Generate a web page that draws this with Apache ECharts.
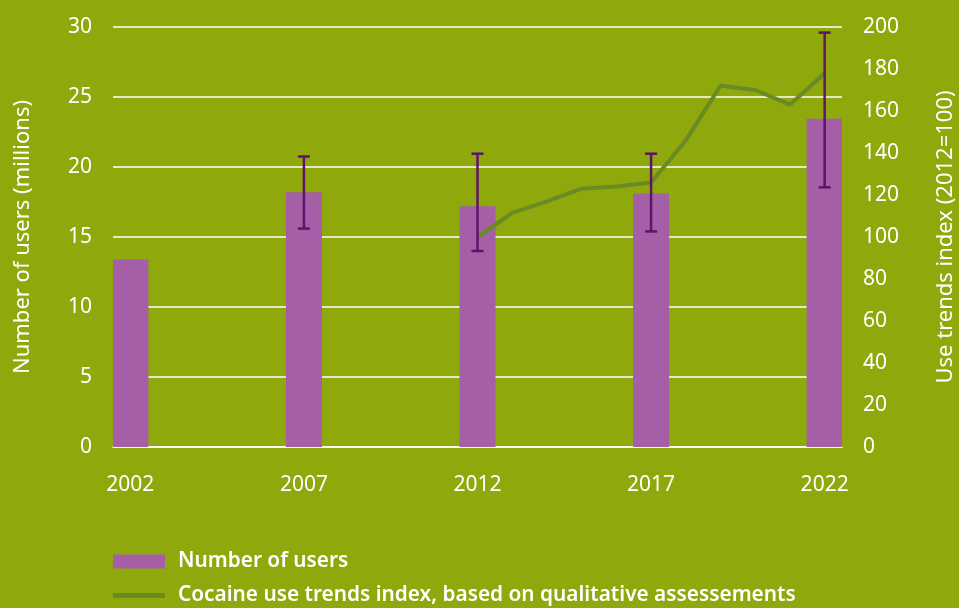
<!DOCTYPE html>
<html>
<head>
<meta charset="utf-8">
<script src="https://cdn.jsdelivr.net/npm/echarts@6/dist/echarts.min.js"></script>
<style>
  html, body { margin: 0; padding: 0; background: #8fa80c; }
  #chart { width: 959px; height: 608px; }
</style>
</head>
<body>
<div id="chart"></div>
<script>
const years = ['2002','2003','2004','2005','2006','2007','2008','2009','2010','2011','2012',
  '2013','2014','2015','2016','2017','2018','2019','2020','2021','2022']

// survey years with user estimates (millions)
const userYears = ['2002', '2007', '2012', '2017', '2022']
const users = [13.4, 18.2, 17.2, 18.1, 23.45]
const usersLow = [null, 15.6, 14.0, 15.4, 18.55]
const usersHigh = [null, 20.75, 20.95, 20.95, 29.6]

// trends index, 2012 = 100
const indexYears = ['2012','2013','2014','2015','2016','2017','2018','2019','2020','2021','2022']
const indexValues = [100, 111.5, 117, 123, 124, 126, 146, 172, 170, 163, 178]

const usersName = 'Number of users'
const indexName = 'Cocaine use trends index, based on qualitative assessements'

const barData = years.map(y => {
  const i = userYears.indexOf(y)
  return i >= 0 ? users[i] : '-'
})
const lineData = years.map(y => {
  const i = indexYears.indexOf(y)
  return i >= 0 ? indexValues[i] : '-'
})
const errData = userYears
  .map((y, i) => [years.indexOf(y), usersLow[i], usersHigh[i]])
  .filter(d => d[1] != null)

const font = '"Noto Sans", "Open Sans", sans-serif'
const chart = echarts.init(document.getElementById('chart'))

chart.setOption({
  animation: false,
  backgroundColor: '#8fa80c',
  textStyle: { fontFamily: font },
  grid: { left: 113, right: 117, top: 27, bottom: 161, outerBoundsMode: 'none' },
  legend: [
    {
      data: [usersName],
      left: 113,
      top: 551,
      padding: 0,
      icon: 'rect',
      itemWidth: 52,
      itemHeight: 14,
      textStyle: { color: '#fff', fontSize: 20.8, fontWeight: 600, fontFamily: font, padding: [0, 0, 0, 8] },
    },
    {
      data: [indexName],
      left: 113,
      top: 585,
      padding: 0,
      icon: 'roundRect',
      itemWidth: 52,
      itemHeight: 5,
      textStyle: { color: '#fff', fontSize: 20.8, fontWeight: 600, fontFamily: font, padding: [0, 0, 0, 8] },
    },
  ],
  xAxis: {
    type: 'category',
    data: years,
    boundaryGap: true,
    axisLine: { show: true, lineStyle: { color: '#fff', width: 1.5 } },
    axisTick: { show: false },
    axisLabel: { interval: 4, color: '#fff', fontSize: 21, margin: 28, fontFamily: font },
    splitLine: { show: false },
  },
  yAxis: [
    {
      type: 'value',
      min: 0,
      max: 30,
      interval: 5,
      name: 'Number of users (millions)',
      nameLocation: 'middle',
      nameGap: 79,
      nameTextStyle: { color: '#fff', fontSize: 22, fontFamily: font },
      axisLine: { show: false },
      axisTick: { show: false },
      axisLabel: { color: '#fff', fontSize: 21, margin: 21, fontFamily: font },
      splitLine: { lineStyle: { color: '#fff', width: 1.5 } },
    },
    {
      type: 'value',
      min: 0,
      max: 200,
      interval: 20,
      name: 'Use trends index (2012=100)',
      nameLocation: 'middle',
      nameGap: 93,
      nameTextStyle: { color: '#fff', fontSize: 22, fontFamily: font },
      axisLine: { show: false },
      axisTick: { show: false },
      axisLabel: { color: '#fff', fontSize: 21, margin: 21, fontFamily: font },
      splitLine: { show: false },
    },
  ],
  series: [
    {
      name: usersName,
      type: 'bar',
      data: barData,
      barWidth: 36,
      itemStyle: { color: '#a45fa6' },
      z: 2,
    },
    {
      name: indexName,
      type: 'line',
      yAxisIndex: 1,
      data: lineData,
      symbol: 'none',
      lineStyle: { color: '#6a8a24', width: 4 },
      itemStyle: { color: '#6a8a24' },
      z: 3,
    },
    {
      type: 'custom',
      name: 'error',
      data: errData,
      z: 4,
      renderItem: (params, api) => {
        const x = api.value(0)
        const lo = api.coord([x, api.value(1)])
        const hi = api.coord([x, api.value(2)])
        const half = 6
        const style = { stroke: '#5f136a', lineWidth: 2.5 }
        return {
          type: 'group',
          children: [
            { type: 'line', shape: { x1: lo[0], y1: lo[1], x2: hi[0], y2: hi[1] }, style },
            { type: 'line', shape: { x1: lo[0] - half, y1: lo[1], x2: lo[0] + half, y2: lo[1] }, style },
            { type: 'line', shape: { x1: hi[0] - half, y1: hi[1], x2: hi[0] + half, y2: hi[1] }, style },
          ],
        }
      },
    },
  ],
})
</script>
</body>
</html>
